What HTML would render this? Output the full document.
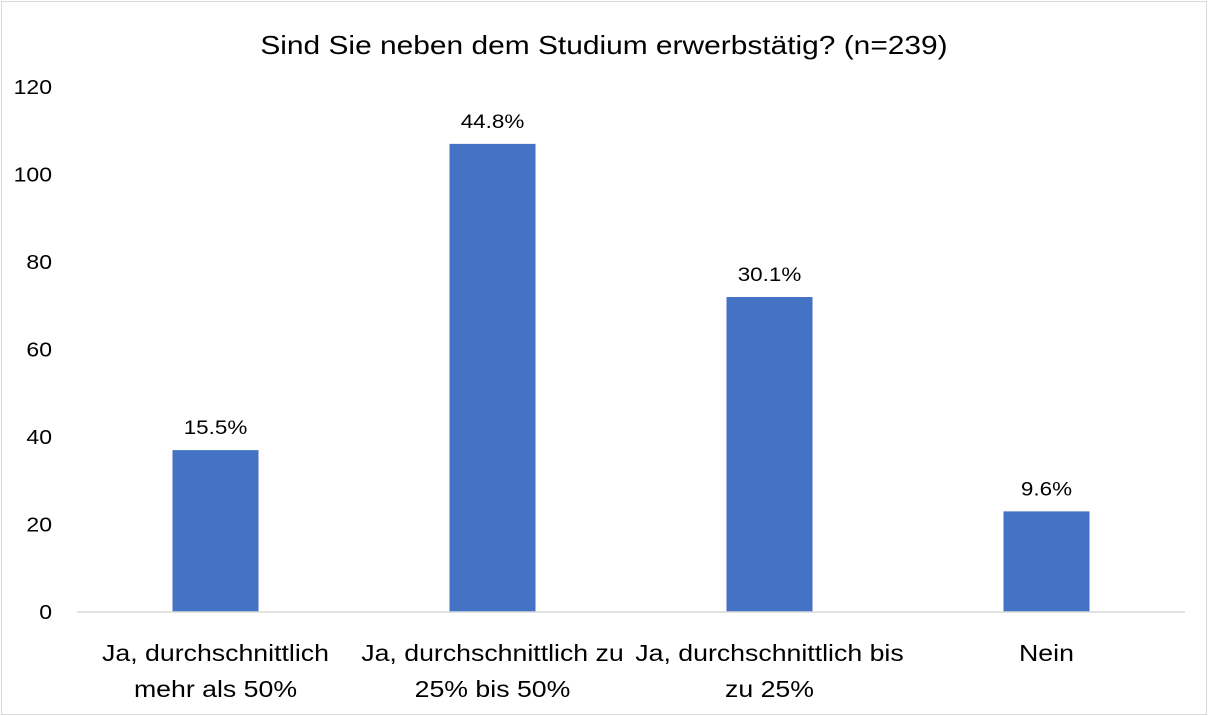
<!DOCTYPE html>
<html><head><meta charset="utf-8"><style>
body{margin:0;background:#fff;}
svg{display:block;font-family:"Liberation Sans",sans-serif;}
</style></head><body>
<svg id="chart" width="1208" height="716">
<rect x="1.5" y="1.5" width="1205" height="713" fill="#fff" stroke="#d9d9d9"/>
<text id="title" x="604" y="54" text-anchor="middle" font-size="26" fill="#000">Sind Sie neben dem Studium erwerbstätig? (n=239)</text>
<g id="yticks"></g><g id="bars"></g><g id="cats"></g>
<line x1="77" y1="612" x2="1185" y2="612" stroke="#d9d9d9" stroke-width="1.5"/>
</svg>
<script>
const categories = [["Ja, durchschnittlich","mehr als 50%"],["Ja, durchschnittlich zu","25% bis 50%"],["Ja, durchschnittlich bis","zu 25%"],["Nein"]];
const values = [37, 107, 72, 23];
const valueLabels = ["15.5%","44.8%","30.1%","9.6%"];
const yTicks = [0,20,40,60,80,100,120];
const NS="http://www.w3.org/2000/svg";
const L=77,R=1185,Y0=612,Y120=87;
const y=v=>Y0-(v/120)*(Y0-Y120);
const bw=(R-L)/categories.length;
const x=i=>L+bw*(i+0.5);
function mk(t,a,p,txt){const e=document.createElementNS(NS,t);for(const k in a)e.setAttribute(k,a[k]);if(txt!==undefined)e.textContent=txt;p.appendChild(e);return e;}
function widen(e,f){const w=e.getComputedTextLength();e.setAttribute('textLength',w*f);e.setAttribute('lengthAdjust','spacingAndGlyphs');}
widen(document.getElementById('title'),1.15);
const gy=document.getElementById('yticks'),gb=document.getElementById('bars'),gc=document.getElementById('cats');
yTicks.forEach(t=>{const e=mk('text',{x:52,y:y(t)+7,'text-anchor':'end','font-size':20,fill:'#000'},gy,String(t));


widen(e,1.15);});
values.forEach((v,i)=>{const r=mk('rect',{x:x(i)-43,y:y(v),width:86,height:Y0-y(v),fill:'#4472c4'},gb);


const t=mk('text',{x:x(i),y:y(v)-16,'text-anchor':'middle','font-size':19,fill:'#000'},gb,valueLabels[i]);


widen(t,1.18);});
categories.forEach((c,i)=>{c.forEach((line,j)=>{const t=mk('text',{x:x(i),y:661+j*36,'text-anchor':'middle','font-size':23,fill:'#000'},gc,line);


widen(t,1.16);});});
</script>
</body></html>
